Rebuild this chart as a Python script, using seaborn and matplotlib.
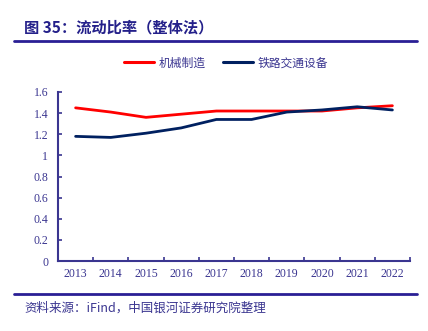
import matplotlib
matplotlib.use("Agg")
import matplotlib.pyplot as plt
import seaborn as sns
import pandas as pd
from matplotlib.lines import Line2D

years = ["2013", "2014", "2015", "2016", "2017", "2018", "2019", "2020", "2021", "2022"]
machinery = [1.45, 1.41, 1.36, 1.39, 1.42, 1.42, 1.42, 1.42, 1.45, 1.47]
railway = [1.18, 1.17, 1.21, 1.26, 1.34, 1.34, 1.41, 1.43, 1.46, 1.43]
series_names = ["机械制造", "铁路交通设备"]
yticks = [0, 0.2, 0.4, 0.6, 0.8, 1.0, 1.2, 1.4, 1.6]
ytick_labels = ["0", "0.2", "0.4", "0.6", "0.8", "1", "1.2", "1.4", "1.6"]

sns.set_theme(style="white")
plt.rcParams["font.family"] = ["Noto Sans CJK SC", "DejaVu Sans"]

ink = "#3A3590"
title_ink = "#24208A"
colors = {"机械制造": "#FF0000", "铁路交通设备": "#002060"}

df = pd.DataFrame({
    "year": years * 2,
    "value": machinery + railway,
    "series": [series_names[0]] * len(years) + [series_names[1]] * len(years),
})
df["pos"] = list(range(len(years))) * 2

fig = plt.figure(figsize=(4.28, 3.31), dpi=100)
ax = fig.add_axes([58 / 428, 1 - 261 / 331, (410 - 58) / 428, (261 - 92) / 331])

sns.lineplot(data=df, x="pos", y="value", hue="series", palette=colors,
             linewidth=2.0, ax=ax, legend=False)

ax.set_xlim(-0.5, len(years) - 0.5)
ax.set_ylim(0, 1.6)
ax.set_yticks(yticks)
ax.set_yticklabels(ytick_labels)
ax.set_xticks(range(len(years)))
ax.set_xticklabels(years)
ax.set_xticks([i + 0.5 for i in range(-1, len(years))], minor=True)
ax.tick_params(axis="x", which="major", bottom=True, length=0, pad=5)
ax.tick_params(axis="x", which="minor", bottom=True, length=3, width=1.2, color=ink, direction="in")
ax.tick_params(axis="y", which="major", left=True, length=3, width=1.2, color=ink,
               direction="in", pad=7)
ax.set_xlabel("")
ax.set_ylabel("")
for lab in ax.get_xticklabels() + ax.get_yticklabels():
    lab.set_fontfamily(["Liberation Serif", "DejaVu Serif"])
    lab.set_fontsize(8.5)
    lab.set_color(ink)
for side in ["top", "right"]:
    ax.spines[side].set_visible(False)
for side in ["left", "bottom"]:
    ax.spines[side].set_color(ink)
    ax.spines[side].set_linewidth(1.5)
ax.grid(False)

handles = [Line2D([], [], color=colors[n], linewidth=2.2) for n in series_names]
leg = fig.legend(handles, series_names, loc="center", bbox_to_anchor=(226 / 428, 1 - 63 / 331),
                 ncol=2, frameon=False, fontsize=8.5, handlelength=2.6, handletextpad=0.4,
                 columnspacing=1.4)
for t in leg.get_texts():
    t.set_color(ink)

fig.text(24 / 428, 1 - 27 / 331, "图 35：流动比率（整体法）", fontsize=11, fontweight="bold",
         color=title_ink, va="center", ha="left")
fig.add_artist(Line2D([14 / 428, 417 / 428], [1 - 41 / 331, 1 - 41 / 331],
                      color="#2A1F95", linewidth=2.0))
fig.add_artist(Line2D([14 / 428, 417 / 428], [1 - 294 / 331, 1 - 294 / 331],
                      color="#2A1F95", linewidth=2.0))
fig.text(24 / 428, 1 - 308 / 331, "资料来源：iFind，中国银河证券研究院整理", fontsize=9,
         style="italic", color=ink, va="center", ha="left")

fig.savefig("out.png", dpi=100)
